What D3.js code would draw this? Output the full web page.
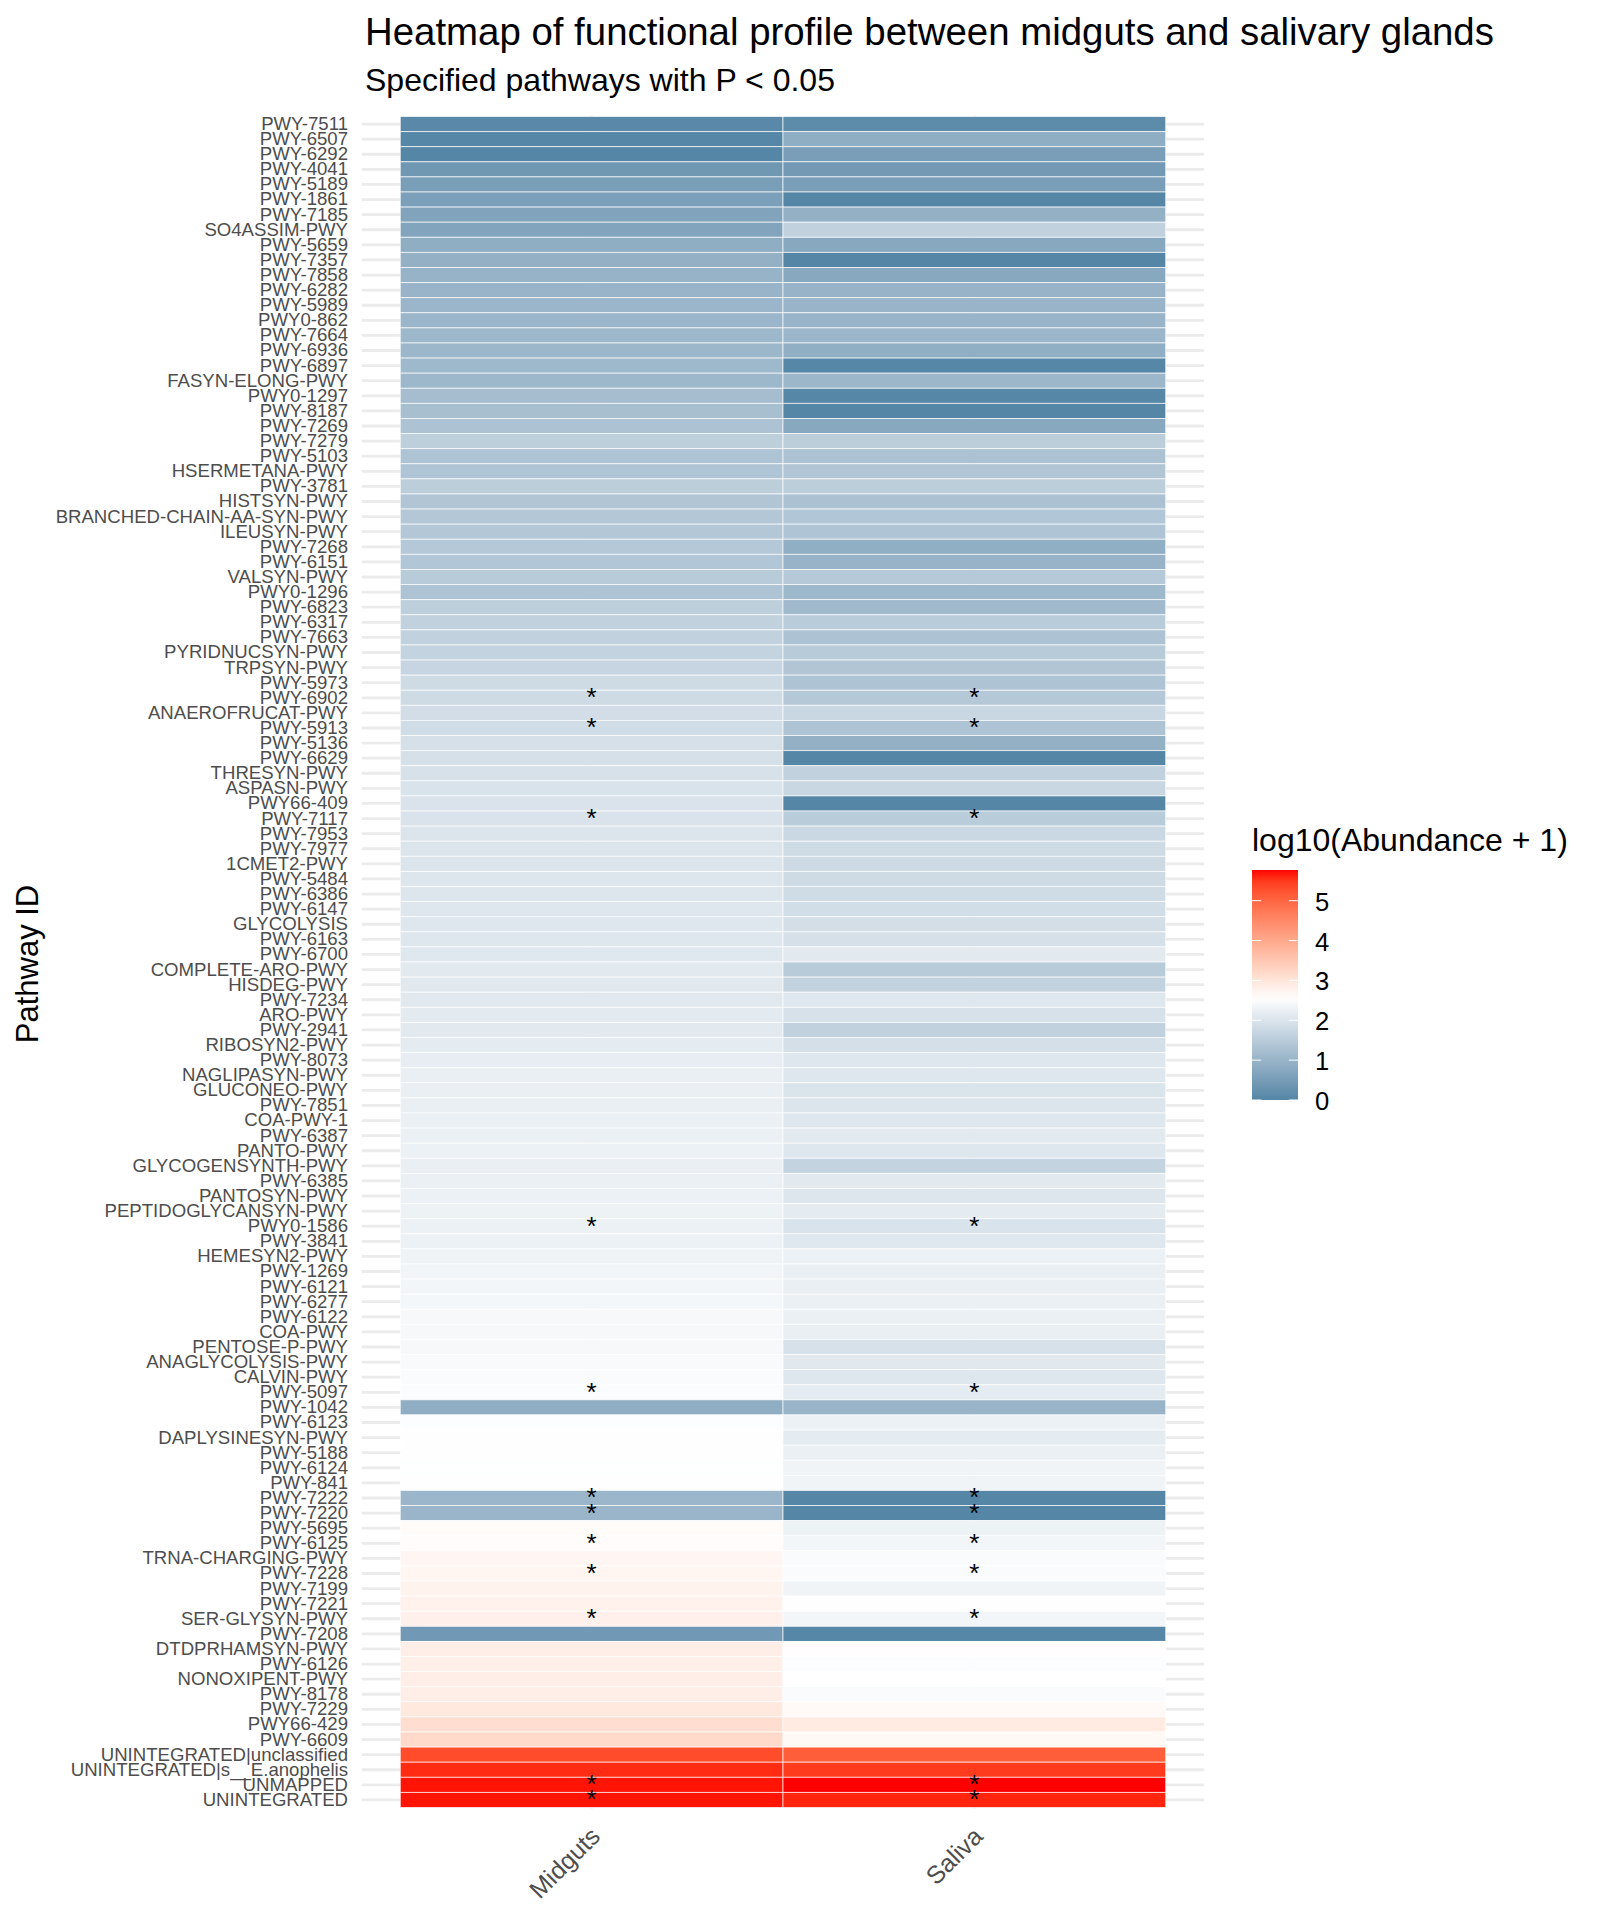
<!DOCTYPE html>
<html>
<head>
<meta charset="utf-8">
<title>Functional profile heatmap</title>
<script src="https://cdn.jsdelivr.net/npm/d3@7"></script>
<style>
  body { margin: 0; background: #fff; }
  text { font-family: "Liberation Sans", Arial, sans-serif; }
</style>
</head>
<body>
<div id="chart"></div>
<script>
// data storage
const pathways = [
  'PWY-7511', 'PWY-6507', 'PWY-6292', 'PWY-4041', 'PWY-5189', 'PWY-1861', 'PWY-7185', 'SO4ASSIM-PWY',
  'PWY-5659', 'PWY-7357', 'PWY-7858', 'PWY-6282', 'PWY-5989', 'PWY0-862', 'PWY-7664', 'PWY-6936',
  'PWY-6897', 'FASYN-ELONG-PWY', 'PWY0-1297', 'PWY-8187', 'PWY-7269', 'PWY-7279', 'PWY-5103', 'HSERMETANA-PWY',
  'PWY-3781', 'HISTSYN-PWY', 'BRANCHED-CHAIN-AA-SYN-PWY', 'ILEUSYN-PWY', 'PWY-7268', 'PWY-6151', 'VALSYN-PWY', 'PWY0-1296',
  'PWY-6823', 'PWY-6317', 'PWY-7663', 'PYRIDNUCSYN-PWY', 'TRPSYN-PWY', 'PWY-5973', 'PWY-6902', 'ANAEROFRUCAT-PWY',
  'PWY-5913', 'PWY-5136', 'PWY-6629', 'THRESYN-PWY', 'ASPASN-PWY', 'PWY66-409', 'PWY-7117', 'PWY-7953',
  'PWY-7977', '1CMET2-PWY', 'PWY-5484', 'PWY-6386', 'PWY-6147', 'GLYCOLYSIS', 'PWY-6163', 'PWY-6700',
  'COMPLETE-ARO-PWY', 'HISDEG-PWY', 'PWY-7234', 'ARO-PWY', 'PWY-2941', 'RIBOSYN2-PWY', 'PWY-8073', 'NAGLIPASYN-PWY',
  'GLUCONEO-PWY', 'PWY-7851', 'COA-PWY-1', 'PWY-6387', 'PANTO-PWY', 'GLYCOGENSYNTH-PWY', 'PWY-6385', 'PANTOSYN-PWY',
  'PEPTIDOGLYCANSYN-PWY', 'PWY0-1586', 'PWY-3841', 'HEMESYN2-PWY', 'PWY-1269', 'PWY-6121', 'PWY-6277', 'PWY-6122',
  'COA-PWY', 'PENTOSE-P-PWY', 'ANAGLYCOLYSIS-PWY', 'CALVIN-PWY', 'PWY-5097', 'PWY-1042', 'PWY-6123', 'DAPLYSINESYN-PWY',
  'PWY-5188', 'PWY-6124', 'PWY-841', 'PWY-7222', 'PWY-7220', 'PWY-5695', 'PWY-6125', 'TRNA-CHARGING-PWY',
  'PWY-7228', 'PWY-7199', 'PWY-7221', 'SER-GLYSYN-PWY', 'PWY-7208', 'DTDPRHAMSYN-PWY', 'PWY-6126', 'NONOXIPENT-PWY',
  'PWY-8178', 'PWY-7229', 'PWY66-429', 'PWY-6609', 'UNINTEGRATED|unclassified', 'UNINTEGRATED|s__E.anophelis', 'UNMAPPED', 'UNINTEGRATED'
];

const groups = ['Midguts', 'Saliva'];

const midguts = [
  0.05, 0.02, 0, 0.39, 0.52, 0.57, 0.65, 0.67,
  0.85, 0.91, 0.98, 1.01, 1.04, 1.04, 1.08, 1.06,
  1.1, 1.08, 1.2, 1.23, 1.31, 1.57, 1.33, 1.35,
  1.55, 1.37, 1.41, 1.41, 1.43, 1.38, 1.48, 1.33,
  1.57, 1.62, 1.62, 1.65, 1.7, 1.81, 1.81, 1.87,
  1.86, 1.92, 1.92, 1.95, 1.98, 1.99, 1.99, 2.03,
  2.03, 2.03, 2.04, 2.05, 2.07, 2.06, 2.07, 2.09,
  2.11, 2.1, 2.1, 2.14, 2.11, 2.15, 2.19, 2.22,
  2.23, 2.22, 2.25, 2.25, 2.26, 2.22, 2.24, 2.27,
  2.28, 2.27, 2.27, 2.31, 2.34, 2.37, 2.39, 2.41,
  2.41, 2.41, 2.45, 2.47, 2.49, 0.85, 2.51, 2.53,
  2.53, 2.54, 2.56, 1.04, 1.02, 2.62, 2.6, 2.7,
  2.72, 2.76, 2.78, 2.8, 0.41, 2.84, 2.82, 2.85,
  2.84, 2.95, 3.13, 3.2, 5.3, 5.6, 5.72, 5.72
];

const saliva = [
  0.12, 0.85, 0.54, 0.43, 0.54, 0, 0.91, 1.62,
  0.75, 0, 0.75, 0.99, 1.01, 1.01, 1.04, 0.87,
  0.02, 1.05, 0.02, 0, 0.75, 1.55, 1.3, 1.37,
  1.55, 1.3, 1.38, 1.35, 0.87, 0.99, 1.45, 1.1,
  1.12, 1.5, 1.31, 1.48, 1.37, 1.33, 1.43, 1.73,
  1.33, 0.91, 0, 1.62, 1.73, 0, 1.5, 1.75,
  1.81, 1.8, 1.81, 1.83, 1.88, 1.89, 1.92, 2.11,
  1.48, 1.64, 2.07, 1.94, 1.62, 1.91, 2.07, 2.07,
  2.0, 2.03, 2.07, 2.11, 2.06, 1.65, 2.12, 2.05,
  2.16, 1.98, 2.09, 2.26, 2.22, 2.22, 2.25, 2.25,
  2.22, 1.94, 2.1, 2.07, 2.15, 1.01, 2.26, 2.16,
  2.25, 2.32, 2.32, 0, 0, 2.28, 2.37, 2.46,
  2.46, 2.33, 2.56, 2.37, 0.02, 2.58, 2.51, 2.55,
  2.46, 2.63, 2.9, 2.66, 5.1, 5.48, 5.77, 5.64
];

// pathways flagged with a star in both columns
const starred = [
  'PWY-6902', 'PWY-5913', 'PWY-7117', 'PWY0-1586', 'PWY-5097', 'PWY-7222',
  'PWY-7220', 'PWY-6125', 'PWY-7228', 'SER-GLYSYN-PWY', 'UNMAPPED', 'UNINTEGRATED'
];

const fillStops = [0, 2.55, 5.77];
const fillColors = ['#5586a6', '#ffffff', '#ff0000'];
const legendTicks = [0, 1, 2, 3, 4, 5];

const width = 1600;
const height = 1920;

let svg = d3.select('#chart').append('svg')
    .attr('width', width)
    .attr('height', height);

let scales = {
  x: d3.scaleBand().domain(groups).range([362, 1204]).paddingInner(0).paddingOuter(0.1),
  y: d3.scaleBand().domain(pathways).range([116.5, 1807.5]),
  fill: d3.scaleLinear().domain(fillStops).range(fillColors).interpolate(d3.interpolateLab)
};

let cells = [];
pathways.forEach((p, i) => {
  cells.push({ pathway: p, group: 'Midguts', value: midguts[i] });
  cells.push({ pathway: p, group: 'Saliva', value: saliva[i] });
});

function drawGrid() {
  let g = svg.append('g').attr('class', 'grid').attr('stroke', '#ebebeb').attr('stroke-width', 2.8);

  g.selectAll('.grid-h')
      .data(pathways)
      .enter().append('line')
      .attr('x1', scales.x.range()[0])
      .attr('x2', scales.x.range()[1])
      .attr('y1', (d) => scales.y(d) + scales.y.bandwidth() / 2)
      .attr('y2', (d) => scales.y(d) + scales.y.bandwidth() / 2);

  g.selectAll('.grid-v')
      .data(groups)
      .enter().append('line')
      .attr('x1', (d) => scales.x(d) + scales.x.bandwidth() / 2)
      .attr('x2', (d) => scales.x(d) + scales.x.bandwidth() / 2)
      .attr('y1', scales.y.range()[0] - 1)
      .attr('y2', scales.y.range()[1] + 1);
}

function drawCells() {
  svg.append('g').attr('class', 'cells')
      .selectAll('rect')
      .data(cells)
      .enter().append('rect')
      .attr('x', (d) => scales.x(d.group))
      .attr('y', (d) => scales.y(d.pathway))
      .attr('width', scales.x.bandwidth())
      .attr('height', scales.y.bandwidth())
      .attr('fill', (d) => scales.fill(d.value))
      .attr('stroke', '#fff')
      .attr('stroke-width', 0.9)
      .attr('stroke-opacity', 0.75);
}

function drawStars() {
  let starCells = cells.filter((d) => starred.includes(d.pathway));
  svg.append('g').attr('class', 'stars')
      .selectAll('text')
      .data(starCells)
      .enter().append('text')
      .attr('x', (d) => scales.x(d.group) + scales.x.bandwidth() / 2)
      .attr('y', (d) => scales.y(d.pathway) + scales.y.bandwidth() / 2 + 8.5)
      .attr('text-anchor', 'middle')
      .attr('font-size', 26)
      .attr('fill', '#000')
      .text('*');
}

function drawAxes() {
  let yAxis = svg.append('g')
      .attr('class', 'y-axis')
      .attr('transform', 'translate(348,0)')
      .call(d3.axisLeft(scales.y).tickSize(0).tickPadding(0));
  yAxis.select('.domain').remove();
  yAxis.selectAll('text')
      .attr('font-size', 18.6)
      .attr('fill', '#4d4d4d')
      .style('font-family', '"Liberation Sans", Arial, sans-serif');

  let xAxis = svg.append('g')
      .attr('class', 'x-axis')
      .attr('transform', 'translate(0,1826)')
      .call(d3.axisBottom(scales.x).tickSize(0).tickPadding(0));
  xAxis.select('.domain').remove();
  xAxis.selectAll('text')
      .attr('font-size', 25)
      .attr('fill', '#4d4d4d')
      .attr('text-anchor', 'end')
      .attr('dy', 0)
      .attr('transform', 'translate(10,12) rotate(-45)')
      .style('font-family', '"Liberation Sans", Arial, sans-serif');

  svg.append('text')
      .attr('transform', 'translate(38,964) rotate(-90)')
      .attr('text-anchor', 'middle')
      .attr('font-size', 31)
      .attr('fill', '#000')
      .text('Pathway ID');
}

function drawTitles() {
  svg.append('text')
      .attr('x', 365).attr('y', 45)
      .attr('font-size', 38.4)
      .attr('fill', '#000')
      .text('Heatmap of functional profile between midguts and salivary glands');
  svg.append('text')
      .attr('x', 365).attr('y', 91)
      .attr('font-size', 32)
      .attr('fill', '#000')
      .text('Specified pathways with P < 0.05');
}

function drawLegend() {
  let barLeft = 1252;
  let barWidth = 46;
  let legendY = d3.scaleLinear().domain([0, 5.77]).range([1100, 870]);

  let grad = svg.append('defs').append('linearGradient')
      .attr('id', 'legend-fill')
      .attr('x1', 0).attr('x2', 0).attr('y1', 1).attr('y2', 0);
  d3.range(0, 5.8, 0.25).concat([5.77]).forEach((v) => {
    grad.append('stop')
        .attr('offset', Math.min(v / 5.77, 1))
        .attr('stop-color', scales.fill(Math.min(v, 5.77)));
  });

  let g = svg.append('g').attr('class', 'legend');

  g.append('text')
      .attr('x', barLeft).attr('y', 851)
      .attr('font-size', 32)
      .attr('fill', '#000')
      .text('log10(Abundance + 1)');

  g.append('rect')
      .attr('x', barLeft).attr('y', legendY(5.77))
      .attr('width', barWidth)
      .attr('height', legendY(0) - legendY(5.77))
      .attr('fill', 'url(#legend-fill)');

  let tick = g.selectAll('.legend-tick')
      .data(legendTicks)
      .enter().append('g')
      .attr('class', 'legend-tick');

  tick.append('line')
      .attr('x1', barLeft).attr('x2', barLeft + barWidth / 5)
      .attr('y1', (d) => legendY(d)).attr('y2', (d) => legendY(d))
      .attr('stroke', '#fff').attr('stroke-width', 1);
  tick.append('line')
      .attr('x1', barLeft + barWidth * 4 / 5).attr('x2', barLeft + barWidth)
      .attr('y1', (d) => legendY(d)).attr('y2', (d) => legendY(d))
      .attr('stroke', '#fff').attr('stroke-width', 1);
  tick.append('text')
      .attr('x', 1315)
      .attr('y', (d) => legendY(d) + 10)
      .attr('font-size', 25.6)
      .attr('fill', '#000')
      .text((d) => d);
}

drawGrid();
drawCells();
drawStars();
drawAxes();
drawTitles();
drawLegend();
</script>
</body>
</html>
